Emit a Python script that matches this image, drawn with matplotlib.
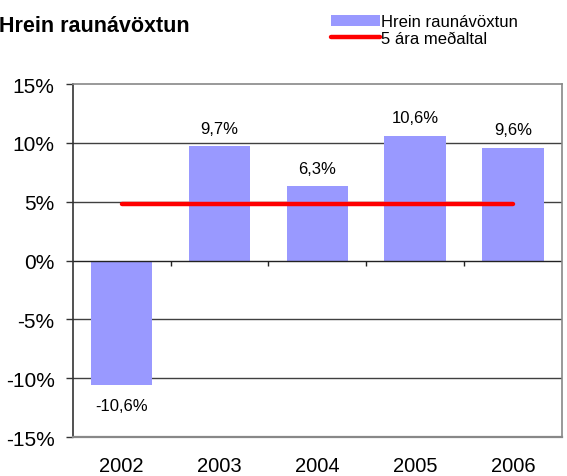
import matplotlib
matplotlib.use("Agg")
import matplotlib.pyplot as plt
from matplotlib.patches import Patch
from matplotlib.lines import Line2D

years = ["2002", "2003", "2004", "2005", "2006"]
values = [-10.6, 9.7, 6.3, 10.6, 9.6]
labels = ["-10,6%", "9,7%", "6,3%", "10,6%", "9,6%"]
avg_value = 4.8
yticks = [-15, -10, -5, 0, 5, 10, 15]

plt.rcParams['font.family'] = ['Liberation Sans', 'DejaVu Sans']

fig = plt.figure(figsize=(5.67, 4.77), dpi=100)
ax = fig.add_axes([72.7/567, 1-438/477, (562-72.7)/567, (438-85)/477])

x = list(range(len(years)))
ax.bar(x, values, width=0.63, color="#9999FF", zorder=2)
ax.plot([x[0], x[-1]], [avg_value]*2, color="#FF0000", lw=3.2,
        solid_capstyle="round", zorder=3)

for xi, v, lab in zip(x, values, labels):
    if v >= 0:
        ax.annotate(lab, (xi, v), xytext=(0, 7.5), textcoords="offset points",
                    ha="center", va="bottom", fontsize=12)
    else:
        ax.annotate(lab, (xi, v), xytext=(0, -9.5), textcoords="offset points",
                    ha="center", va="top", fontsize=12)

ax.set_xlim(-0.5, len(years) - 0.5)
ax.set_ylim(-15, 15)
ax.set_yticks(yticks)
ax.set_yticklabels([f"{t}%" for t in yticks], fontsize=15)
ax.set_xticks(x)
ax.set_xticklabels(years, fontsize=14.5)
ax.tick_params(axis="x", length=0, pad=14)
ax.tick_params(axis="y", direction="out", length=5, width=1, color="#333333", pad=8)

for t in yticks:
    if t in (-15, 15):
        continue
    ax.axhline(t, color="#404040" if t != 0 else "#222222", lw=1, zorder=1 if t != 0 else 2.5)

# category boundary ticks on zero line
for b in range(len(years) - 1):
    ax.plot([b + 0.5, b + 0.5], [0, -0.45], color="#222222", lw=1, zorder=2.5,
            solid_capstyle="butt")

ax.spines["left"].set_color("#333333")
ax.spines["left"].set_linewidth(1.2)
ax.spines["top"].set_color("#888888")
ax.spines["right"].set_color("#888888")
ax.spines["bottom"].set_color("#888888")
ax.spines["bottom"].set_linewidth(1.6)
ax.spines["top"].set_linewidth(1.2)
ax.spines["right"].set_linewidth(1.2)

fig.text(-1/567, 1-27/477, "Hrein raunávöxtun", fontsize=15.5, fontweight="bold",
         ha="left", va="center")

handles = [Patch(facecolor="#9999FF", edgecolor="none"),
           Line2D([0], [0], color="#FF0000", lw=3.2, solid_capstyle="round")]
leg = fig.legend(handles, ["Hrein raunávöxtun", "5 ára meðaltal"],
                 loc="upper left", bbox_to_anchor=(318/567, 1-2/477),
                 frameon=False, fontsize=12, handlelength=2.9, handleheight=0.7,
                 handletextpad=0.1, labelspacing=0.1, borderpad=0.3)

fig.savefig("out.png", dpi=100)
